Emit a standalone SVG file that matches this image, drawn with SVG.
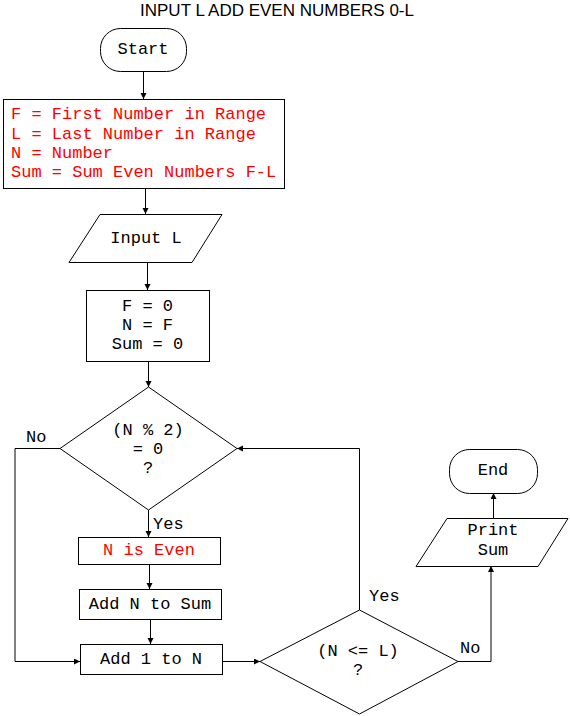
<svg xmlns="http://www.w3.org/2000/svg" width="570" height="716" viewBox="0 0 570 716">
<style>
.s{fill:#fff;stroke:#000;stroke-width:1}
.t{font-family:"Liberation Mono","Courier New",monospace;font-size:17px;fill:#000}
.m{text-anchor:middle}
.r{fill:#ff0000}
.c{fill:none;stroke:#000;stroke-width:1}
</style>
<defs>
<marker id="a" markerUnits="userSpaceOnUse" markerWidth="8" markerHeight="8" refX="6" refY="3" orient="auto">
<path d="M0,0 L6,3 L0,6 z" fill="#000"/>
</marker>
</defs>
<rect width="570" height="716" fill="#fff"/>
<text x="277" y="16" font-family="'Liberation Sans',Arial,sans-serif" font-size="17" text-anchor="middle">INPUT L ADD EVEN NUMBERS 0-L</text>

<g id="connectors">
<path class="c" d="M143.5,71 V99" marker-end="url(#a)"/>
<path class="c" d="M145.5,188 V214" marker-end="url(#a)"/>
<path class="c" d="M147.5,262 V290" marker-end="url(#a)"/>
<path class="c" d="M148.5,361 V387" marker-end="url(#a)"/>
<path class="c" d="M148.5,510 V537" marker-end="url(#a)"/>
<path class="c" d="M149.5,564 V589" marker-end="url(#a)"/>
<path class="c" d="M150.5,619 V644" marker-end="url(#a)"/>
<path class="c" d="M222,661.5 H260" marker-end="url(#a)"/>
<path class="c" d="M60,448.5 H15 V661.5 H80" marker-end="url(#a)"/>
<path class="c" d="M359.5,610 V448.5 H237" marker-end="url(#a)"/>
<path class="c" d="M458,661.5 H491 V566" marker-end="url(#a)"/>
<path class="c" d="M493.5,518 V493" marker-end="url(#a)"/>
<text class="t" x="26" y="442">No</text>
<text class="t" x="153" y="529">Yes</text>
<text class="t" x="369" y="601">Yes</text>
<text class="t" x="460" y="653">No</text>
</g>

<g id="start">
<rect class="s" x="100.5" y="28.5" width="86" height="43" rx="20"/>
<text class="t m" x="143" y="54">Start</text>
</g>

<g id="definitions">
<rect class="s" x="3.5" y="99.5" width="281" height="89"/>
<text class="t r" x="11" y="119">F = First Number in Range</text>
<text class="t r" x="11" y="139">L = Last Number in Range</text>
<text class="t r" x="11" y="158">N = Number</text>
<text class="t r" x="11" y="177">Sum = Sum Even Numbers F-L</text>
</g>

<g id="input">
<path class="s" d="M100,214.5 H222 L192,262.5 H69 Z"/>
<text class="t m" x="146" y="243">Input L</text>
</g>

<g id="init">
<rect class="s" x="86.5" y="290.5" width="123" height="71"/>
<text class="t m" x="147.5" y="311">F = 0</text>
<text class="t m" x="147.5" y="330">N = F</text>
<text class="t m" x="147.5" y="349">Sum = 0</text>
</g>

<g id="even-check">
<path class="s" d="M148.5,387 L237,448.5 L148.5,510 L60,448.5 Z"/>
<text class="t m" x="148" y="435">(N % 2)</text>
<text class="t m" x="148" y="454">= 0</text>
<text class="t m" x="148" y="473">?</text>
</g>

<g id="is-even">
<rect class="s" x="78.5" y="537.5" width="142" height="27"/>
<text class="t m r" x="149" y="555">N is Even</text>
</g>

<g id="add-sum">
<rect class="s" x="79.5" y="589.5" width="142" height="30"/>
<text class="t m" x="150" y="609">Add N to Sum</text>
</g>

<g id="add-one">
<rect class="s" x="80.5" y="644.5" width="142" height="30"/>
<text class="t m" x="151" y="664">Add 1 to N</text>
</g>

<g id="range-check">
<path class="s" d="M359.5,610 L458,661.5 L359.5,714 L260,661.5 Z"/>
<text class="t m" x="358" y="656">(N &lt;= L)</text>
<text class="t m" x="358" y="675">?</text>
</g>

<g id="print">
<path class="s" d="M447,518.5 H568 L538,566.5 H416 Z"/>
<text class="t m" x="493" y="535">Print</text>
<text class="t m" x="493" y="555">Sum</text>
</g>

<g id="end">
<rect class="s" x="449.5" y="449.5" width="88" height="44" rx="20"/>
<text class="t m" x="493" y="475">End</text>
</g>
</svg>
